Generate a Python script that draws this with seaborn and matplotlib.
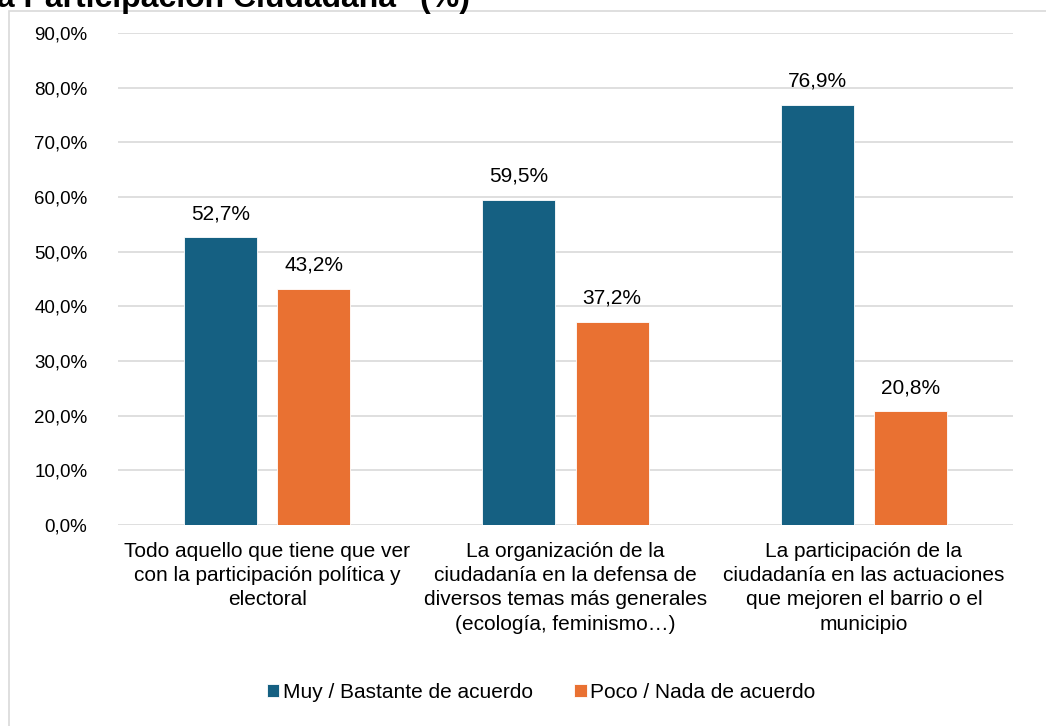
import matplotlib
matplotlib.use("Agg")
import matplotlib.pyplot as plt
import seaborn as sns
import pandas as pd
from matplotlib.patches import Rectangle

categories = [
    "Todo aquello que tiene que ver\ncon la participación política y\nelectoral",
    "La organización de la\nciudadanía en la defensa de\ndiversos temas más generales\n(ecología, feminismo…)",
    "La participación de la\nciudadanía en las actuaciones\nque mejoren el barrio o el\nmunicipio",
]
series_names = ["Muy / Bastante de acuerdo", "Poco / Nada de acuerdo"]
muy_bastante = [52.7, 59.5, 76.9]
poco_nada = [43.2, 37.2, 20.8]
yticks = [0, 10, 20, 30, 40, 50, 60, 70, 80, 90]
colors = ["#156082", "#E97132"]

rows = []
for c, a, b in zip(categories, muy_bastante, poco_nada):
    rows.append({"cat": c, "serie": series_names[0], "val": a})
    rows.append({"cat": c, "serie": series_names[1], "val": b})
df = pd.DataFrame(rows)

sns.set_theme(style="white")
plt.rcParams["font.family"] = ["Liberation Sans", "DejaVu Sans"]
plt.rcParams["text.color"] = "#000000"

W, H = 1046, 726
fig = plt.figure(figsize=(W / 100, H / 100), dpi=100)
fig.patch.set_facecolor("white")

# chart border (partially cropped)
fig.patches.append(Rectangle((9 / W, -0.05), 1.1, 1 - 11 / H + 0.05,
                             transform=fig.transFigure, fill=False,
                             edgecolor="#d9d9d9", linewidth=1.2, zorder=0))
# cropped title
fig.text(-12 / W, 1 - 7 / H, "la Participación Ciudadana\" (%)", fontsize=23,
         fontweight="bold", ha="left", va="baseline", color="#000000")

ax = fig.add_axes([118 / W, 1 - 525 / H, (1013 - 118) / W, (525 - 33) / H])
sns.barplot(data=df, x="cat", y="val", hue="serie", palette=colors,
            width=0.624, gap=0.215, ax=ax, saturation=1, legend=True,
            edgecolor="white", linewidth=0.6)

ax.set_ylim(0, 90)
ax.set_xlim(-0.5, 2.5)
ax.set_yticks(yticks)
ax.set_yticklabels([f"{v:.1f}".replace(".", ",") + "%" for v in yticks],
                   fontsize=13.5, color="#000000")
ax.tick_params(axis="y", length=0, pad=22)
ax.tick_params(axis="x", length=0, pad=12, labelcolor="#000000")
ax.set_xticks(range(len(categories)))
ax.set_xticklabels(categories, fontsize=15, linespacing=1.36)
ax.set_xlabel("")
ax.set_ylabel("")
ax.yaxis.grid(True, color="#d9d9d9", linewidth=1.2)
ax.set_axisbelow(True)
for s in ax.spines.values():
    s.set_visible(False)

for cont in ax.containers:
    labels = [f"{b.get_height():.1f}".replace(".", ",") + "%" for b in cont]
    ax.bar_label(cont, labels=labels, padding=10, fontsize=15, color="#000000")

leg = ax.legend(loc="center", bbox_to_anchor=(541 / W, 1 - 692 / H),
                bbox_transform=fig.transFigure, ncol=2, frameon=False,
                fontsize=15, handlelength=0.6, handleheight=0.6,
                handletextpad=0.15, columnspacing=2.0)
for t in leg.get_texts():
    t.set_color("#000000")

fig.savefig("out.png", dpi=100, facecolor="white")
